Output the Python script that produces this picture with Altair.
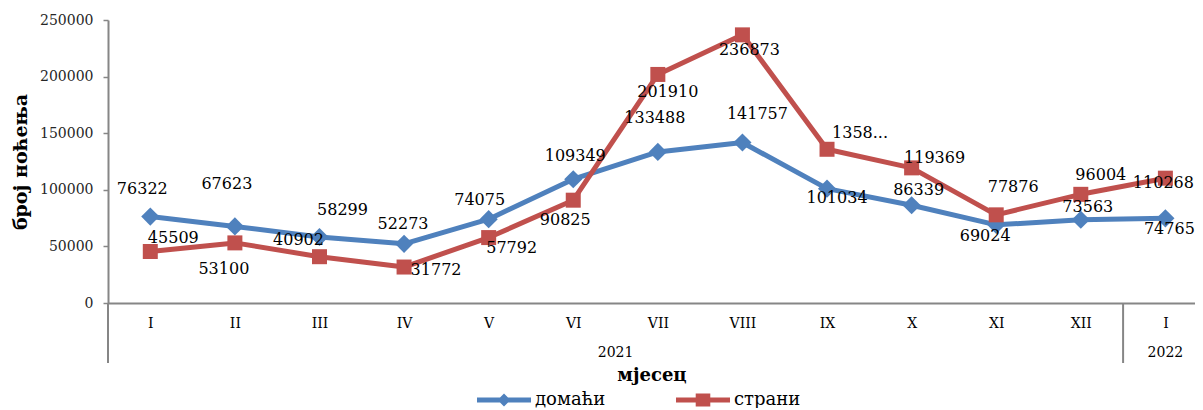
import json
import altair as alt
import pandas as pd

# ---------------- data ----------------
months = ["I", "II", "III", "IV", "V", "VI", "VII", "VIII", "IX", "X", "XI", "XII", "I"]
years = ["2021"] * 12 + ["2022"]
series_names = ["домаћи", "страни"]
domaci = [76322, 67623, 58299, 52273, 74075, 109349, 133488, 141757, 101034, 86339, 69024, 73563, 74765]
strani = [45509, 53100, 40902, 31772, 57792, 90825, 201910, 236873, 135800, 119369, 77876, 96004, 110268]
domaci_labels = [str(v) for v in domaci]
strani_labels = [str(v) for v in strani]
strani_labels[8] = "1358..."
y_ticks = [0, 50000, 100000, 150000, 200000, 250000]

# ---------------- style ----------------
# data-label offsets in pixels (dx, dy) relative to each point
domaci_dx = [-8, -8, 23, -1, -9, 2, -3, 15, 10, 7, -11, 7, 4]
domaci_dy = [-28, -42, -27, -20, -19, -23, -34, -29, 9, -15, 11, -13, 11]
strani_dx = [23, -11, -21, 32, 23, -8, 10, 7, 33, 23, 17, 20, -2]
strani_dy = [-13, 26, -17, 3, 10, 20, 18, 15, -16, -10, -28, -19, 5]

BLUE = "#4F81BD"
RED = "#C0504D"
GRAY = "#868686"
FONT = "DejaVu Serif"
N = len(months)
BAND = 84.6
XMAX = 12.35
W, H = round(BAND * (XMAX + 0.5)), 283
YMAX = 250000

rows = []
for name, vals, labs, dxs, dys in [
    (series_names[0], domaci, domaci_labels, domaci_dx, domaci_dy),
    (series_names[1], strani, strani_labels, strani_dx, strani_dy),
]:
    for i, v in enumerate(vals):
        rows.append(dict(idx=i, month=months[i], year=years[i], series=name,
                         value=v, label=labs[i], dx=dxs[i], dy=dys[i]))
df = pd.DataFrame(rows)

yr = pd.DataFrame({"idx": list(range(N)), "year": years})
df_years = yr.groupby("year", as_index=False).agg(mid=("idx", "mean"), start=("idx", "min"))
df_years["bound"] = df_years["start"] - 0.5

month_expr = json.dumps(months) + "[datum.value]"

x_axis = alt.Axis(
    values=list(range(N)), labelExpr=month_expr, title="мјесец",
    ticks=False, grid=False, domainColor=GRAY, domainWidth=2,
    labelFont=FONT, labelFontSize=14, labelColor="#000", labelPadding=20,
    labelBaseline="middle", labelFlush=False, labelOverlap=False, labelBound=False,
    titleFont=FONT, titleFontSize=18, titleFontWeight="bold", titleColor="#000",
    titleY=72, titleBaseline="middle",
)
y_axis = alt.Axis(
    values=y_ticks, format="d", title="број ноћења", grid=False,
    domainColor=GRAY, domainWidth=2, tickColor=GRAY, tickSize=5, tickWidth=1.5,
    labelFont=FONT, labelFontSize=14, labelColor="#262626", labelPadding=10,
    titleFont=FONT, titleFontSize=19, titleFontWeight="bold", titleColor="#000",
    titleX=-88, titleY=H / 2, titleAngle=270, titleAlign="center", titleBaseline="middle",
)

xs = alt.Scale(domain=[-0.5, XMAX], nice=False, zero=False)
ys = alt.Scale(domain=[0, YMAX], nice=False)
cscale = alt.Scale(domain=series_names, range=[BLUE, RED])

base = alt.Chart(df)
X = alt.X("idx:Q", scale=xs, axis=x_axis, title="мјесец")
Y = alt.Y("value:Q", scale=ys, axis=y_axis, title="број ноћења")

styles = [(series_names[0], BLUE, "diamond", 330), (series_names[1], RED, "square", 225)]
layers = []
for name, col, shp, sz in styles:
    sub = base.transform_filter(alt.datum.series == name)
    layers.append(sub.mark_line(strokeWidth=5, strokeJoin="round", strokeCap="round", color=col).encode(x=X, y=Y))
for name, col, shp, sz in styles:
    sub = base.transform_filter(alt.datum.series == name)
    layers.append(sub.mark_point(filled=True, shape=shp, size=sz, opacity=1, color=col).encode(x=X, y=Y))

path_d = ("M-1,-0.09L1,-0.09L1,0.09L-1,0.09Z"
          "M0,-0.24L0.24,0L0,0.24L-0.24,0Z")
path_s = ("M-1,-0.09L1,-0.09L1,0.09L-1,0.09Z"
          "M-0.27,-0.24L0.27,-0.24L0.27,0.24L-0.27,0.24Z")

leg = alt.Legend(
    orient="none", legendX=369, legendY=353, direction="horizontal", title=None,
    labelFont=FONT, labelFontSize=18, labelColor="#000", labelOffset=4,
    symbolSize=2916, symbolStrokeWidth=0, symbolOpacity=1, columnPadding=70, padding=0,
)
layers.append(base.mark_point(filled=True, size=0, strokeWidth=0).encode(
    x=X, y=Y,
    color=alt.Color("series:N", scale=cscale, legend=leg),
    shape=alt.Shape("series:N", scale=alt.Scale(domain=series_names, range=[path_d, path_s]), legend=leg),
))

layers.append(base.transform_calculate(
    lx=f"datum.idx + datum.dx / {BAND}",
    ly=f"datum.value - datum.dy * {YMAX / H}",
).mark_text(font=FONT, fontSize=16, color="#000", align="center", baseline="middle").encode(
    x=alt.X("lx:Q", scale=xs, title="мјесец"), y=alt.Y("ly:Q", scale=ys, title="број ноћења"), text="label:N",
))

layers.append(alt.Chart(df_years).mark_text(
    font=FONT, fontSize=14, color="#000", align="center", baseline="middle"
).encode(
    x=alt.X("mid:Q", scale=xs, title="мјесец"), y=alt.value(H + 50), text="year:N",
))
layers.append(alt.Chart(df_years).mark_rule(color=GRAY, strokeWidth=2).encode(
    x=alt.X("bound:Q", scale=xs, title="мјесец"), y=alt.value(H), y2=alt.value(H + 60),
))

chart = alt.layer(*layers).properties(
    width=W, height=H,
    autosize=alt.AutoSizeParams(type="none"),
    padding={"left": 100, "top": 12, "right": 0, "bottom": 105},
    background="white",
).configure_view(stroke=None)

chart.save("out.html", embed_options={"renderer": "svg", "actions": False})
